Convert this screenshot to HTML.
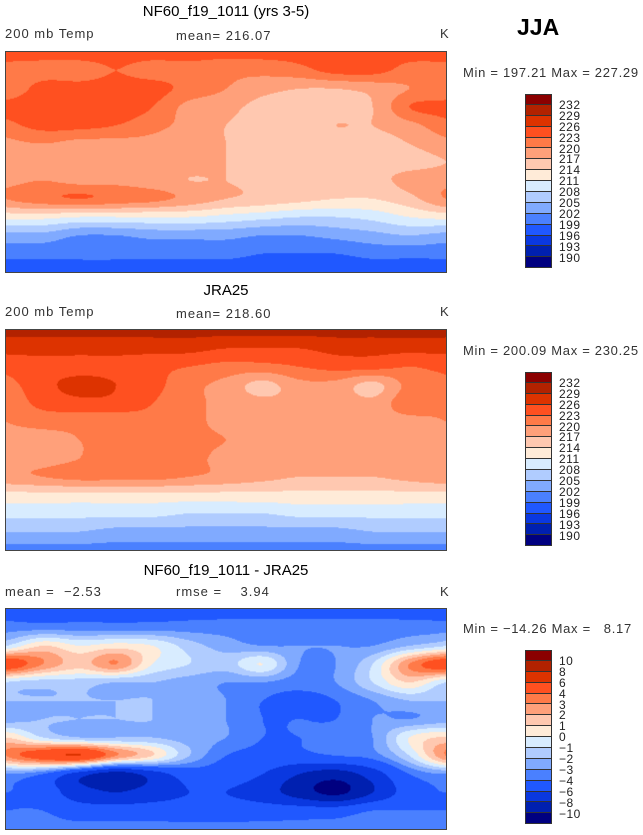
<!DOCTYPE html>
<html><head><meta charset="utf-8">
<style>
body{margin:0;background:#fff;width:643px;height:835px;position:relative;overflow:hidden;font-family:"Liberation Sans",sans-serif;}
.t{position:absolute;white-space:pre;color:#000;}
.title{font-size:15px;text-align:center;width:442px;left:5px;}
.sub{font-size:13px;color:#333;letter-spacing:1px;}
canvas{position:absolute;border:1px solid #444;box-sizing:border-box;}
.cb{position:absolute;left:525px;width:27px;}
.cb div{height:10.9px;box-sizing:border-box;border:1px solid #333;border-top:none;}
.cb div:first-child{border-top:1px solid #333;}
.lab{position:absolute;font-size:12px;color:#222;left:559px;letter-spacing:0.5px;}
</style></head><body>
<div class="t" style="left:517px;top:14px;font-size:23px;font-weight:bold;">JJA</div>

<div class="t title" style="top:3px;">NF60_f19_1011 (yrs 3-5)</div>
<div class="t sub" style="left:5px;top:26px;">200 mb Temp</div>
<div class="t sub" style="left:176px;top:28px;">mean= 216.07</div>
<div class="t sub" style="left:440px;top:26px;">K</div>
<div class="t sub" style="left:463px;top:65px;letter-spacing:0.7px;">Min = 197.21 Max = 227.29</div>
<canvas id="m0" width="442" height="222" style="left:5px;top:51px;width:442px;height:222px;"></canvas>

<div class="t title" style="top:282px;">JRA25</div>
<div class="t sub" style="left:5px;top:304px;">200 mb Temp</div>
<div class="t sub" style="left:176px;top:306px;">mean= 218.60</div>
<div class="t sub" style="left:440px;top:304px;">K</div>
<div class="t sub" style="left:463px;top:343px;letter-spacing:0.7px;">Min = 200.09 Max = 230.25</div>
<canvas id="m1" width="442" height="222" style="left:5px;top:329px;width:442px;height:222px;"></canvas>

<div class="t title" style="top:562px;">NF60_f19_1011 - JRA25</div>
<div class="t sub" style="left:5px;top:584px;">mean =  −2.53</div>
<div class="t sub" style="left:176px;top:584px;">rmse =    3.94</div>
<div class="t sub" style="left:440px;top:584px;">K</div>
<div class="t sub" style="left:463px;top:621px;letter-spacing:0.7px;">Min = −14.26 Max =   8.17</div>
<canvas id="m2" width="442" height="222" style="left:5px;top:608px;width:442px;height:222px;"></canvas>

<div id="cbs"></div>
<script>
const binColors=["#000080","#0020B0","#0A38E0","#2058FF","#4A80FF","#80AAFF","#B0CCFF","#D8ECFF","#FFEBD8","#FFC8B0","#FFA07A","#FF7A48","#FF5020","#DD3300","#B22200","#8B0000"];
const tempLevels=[190,193,196,199,202,205,208,211,214,217,220,223,226,229,232];
const diffLevels=[-10,-8,-6,-4,-3,-2,-1,0,1,2,3,4,6,8,10];
const tempTicks=["190","193","196","199","202","205","208","211","214","217","220","223","226","229","232"];
const diffTicks=["−10","−8","−6","−4","−3","−2","−1","0","1","2","3","4","6","8","10"];
const lats=[90,75,60,45,30,15,0,-15,-30,-45,-60,-75,-90];
const lons=[0,30,60,90,120,150,180,210,240,270,300,330];
const modelGrid=[
[224,224,224,224,224,224,224,224,224,224,224,224],
[222,222,222,223,222,222,221,221,222,224,224,222],
[221,224,224,224,224,222,220,218,217,217,218,220],
[224,225,226,225,223,219,218,216,216,216,217,223],
[222,224,224,223,221,219,217,216,216,217,217,219],
[219,220,219,219,219,218,217,216,216,216,216,217],
[217,218,218,218,218,218,217,216,216,216,216,216],
[219,220,219,219,218,217,217,216,216,216,216,218],
[220,222,223,222,221,219,217,216,215,214,214,216],
[212,212,211,211,211,211,210,209,208,208,209,211],
[204,204,202,202,203,203,203,202,202,203,204,205],
[200,200,200,200,200,200,200,199,199,199,200,200],
[197,197,197,197,197,197,197,197,197,197,197,197]];
const obsGrid=[
[230,230,230,230,230,230,230,230,230,230,230,230],
[227,227,227,227,227,227,226,226,226,227,227,227],
[224,225,225,225,224,223,222,222,223,224,224,223],
[222,225,227,226,224,221,219,216,219,219,216,221],
[221,224,225,225,223,221,219,218,218,219,218,222],
[220,221,221,221,222,221,219,219,219,219,219,219],
[219,219,220,221,221,221,220,219,219,219,219,219],
[219,219,220,221,221,221,219,219,219,219,219,219],
[219,220,221,221,221,220,219,218,217,217,217,218],
[213,213,213,213,213,213,213,213,213,213,213,213],
[209,209,209,209,209,208,208,208,209,209,209,209],
[205,205,205,204,204,204,204,204,204,204,205,205],
[201,201,201,201,201,201,201,201,201,201,201,201]];
const diffGrid=[
[-4.5,-4.5,-4.5,-4.5,-4.5,-4.5,-4.5,-4.5,-4.5,-4.5,-4.5,-4.5],
[-3.5,-3.5,-3.5,-3.5,-3.5,-3.5,-3.5,-3.5,-3.5,-3.5,-3.5,-3.5],
[-1,1,0,0.5,0,-1.5,-2.5,-3,-3,-3,-3,-2],
[5,3,1.5,3,0,-1,-1.5,0,-3,-3,-1,3],
[-1,-1.5,-1.5,-2,-2,-2.5,-3,-3,-3.5,-3,-1,1],
[-2,-2,-2,-2,-2,-2.5,-3,-4,-4.5,-4,-3,-2],
[-2.5,-2,-2,-2,-2,-2.5,-3,-4,-4,-4,-3,-3],
[1,-1,-2,-2,-2,-2.5,-3,-4,-4,-3.5,-3,0],
[3,5,6,3,1,-2,-4,-4.5,-4.5,-4,-3.5,-1],
[-3,-4,-7,-9,-7,-5,-5,-6,-8,-9,-7,-4],
[-4,-5,-7,-8,-7,-6,-6,-7,-9,-10.5,-8,-5],
[-4,-4,-5,-5,-5,-5,-5,-5,-5,-5,-4,-4],
[-3.5,-3.5,-3.5,-3.5,-3.5,-3.5,-3.5,-3.5,-3.5,-3.5,-3.5,-3.5]];

function hex(c){return [parseInt(c.substr(1,2),16),parseInt(c.substr(3,2),16),parseInt(c.substr(5,2),16)];}
const rgb=binColors.map(hex);
function binOf(v,lev){let i=0;while(i<lev.length&&v>=lev[i])i++;return i;}
function cr(p0,p1,p2,p3,t){return 0.5*((2*p1)+(-p0+p2)*t+(2*p0-5*p1+4*p2-p3)*t*t+(-p0+3*p1-3*p2+p3)*t*t*t);}
function sample(g,lat,lon){
  const nr=lats.length,nc=lons.length;
  const r=(90-lat)/15, c=lon/30;
  const r0=Math.min(Math.floor(r),nr-2), fr=r-r0;
  const ci=Math.floor(c), fc=c-ci;
  const rowVal=k=>{const rr=Math.max(0,Math.min(nr-1,k));const row=g[rr];
    const q=j=>row[((j%nc)+nc)%nc];
    return cr(q(ci-1),q(ci),q(ci+1),q(ci+2),fc);};
  return cr(rowVal(r0-1),rowVal(r0),rowVal(r0+1),rowVal(r0+2),fr);
}
function drawMap(id,g,lev){
  const cv=document.getElementById(id),ctx=cv.getContext('2d');
  const W=cv.width,H=cv.height,img=ctx.createImageData(W,H);
  for(let y=0;y<H;y++){const lat=90-180*(y+0.5)/H;
    for(let x=0;x<W;x++){const lon=360*(x+0.5)/W;
      const col=rgb[binOf(sample(g,lat,lon),lev)];const k=(y*W+x)*4;
      img.data[k]=col[0];img.data[k+1]=col[1];img.data[k+2]=col[2];img.data[k+3]=255;}}
  ctx.putImageData(img,0,0);
}
drawMap('m0',modelGrid,tempLevels);
drawMap('m1',obsGrid,tempLevels);
drawMap('m2',diffGrid,diffLevels);

const cbTops=[94,372,650];
const cbTicks=[tempTicks,tempTicks,diffTicks];
const host=document.getElementById('cbs');
cbTops.forEach((top,ci)=>{
  const cb=document.createElement('div');
  cb.className='cb';cb.style.top=top+'px';
  
  
  for(let i=binColors.length-1;i>=0;i--){const s=document.createElement('div');s.style.background=binColors[i];
    
    
    cb.appendChild(s);}
  host.appendChild(cb);
  const ticks=cbTicks[ci];
  for(let j=0;j<ticks.length;j++){
    const l=document.createElement('div');l.className='lab';
    
    
    l.textContent=ticks[ticks.length-1-j];
    l.style.top=(top+10.9*(j+1)-7)+'px';host.appendChild(l);}
});
</script>
</body></html>
